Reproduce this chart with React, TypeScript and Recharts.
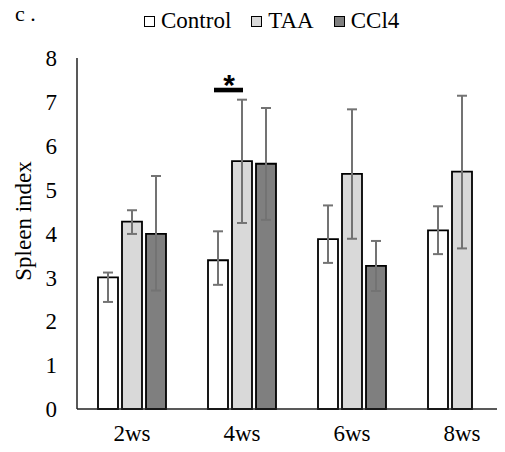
import { BarChart, Bar, XAxis, YAxis, ErrorBar, LabelList, Legend } from "recharts";

const weeks = ["2ws", "4ws", "6ws", "8ws"];
const yTicks = [0, 1, 2, 3, 4, 5, 6, 7, 8];

const controlValues = [3.0, 3.39, 3.87, 4.07];
const controlErr: [number, number][] = [[0.56, 0.11], [0.56, 0.66], [0.54, 0.77], [0.54, 0.55]];

const taaValues = [4.27, 5.65, 5.36, 5.41];
const taaErr: [number, number][] = [[0.28, 0.26], [1.41, 1.4], [1.48, 1.47], [1.75, 1.73]];

const ccl4Values: (number | null)[] = [3.99, 5.59, 3.26, null];
const ccl4Err: ([number, number] | null)[] = [[1.29, 1.32], [1.28, 1.27], [0.57, 0.57], null];

// significance mark over TAA at 4ws
const sigIndex = 1;
const sigValue = 7.27;

const panelLabel = "c .";

const series = [
  { key: "control", label: "Control", color: "#ffffff" },
  { key: "taa", label: "TAA", color: "#d9d9d9" },
  { key: "ccl4", label: "CCl4", color: "#7f7f7f" },
];

const data = weeks.map((w, i) => ({
  week: w,
  control: controlValues[i],
  controlErr: controlErr[i],
  taa: taaValues[i],
  taaErr: taaErr[i],
  ccl4: ccl4Values[i],
  ccl4Err: ccl4Err[i],
}));

const FONT = "'Liberation Serif', 'DejaVu Serif', serif";

function SigMark(props: any) {
  const { x, y, height, value, index } = props;
  if (index !== sigIndex || !value) return null;
  const bottom = y + height;
  const yy = bottom - (sigValue * height) / value;
  const cx = x - 3;
  return (
    <g>
      <rect x={cx - 15} y={yy - 2.3} width={29} height={4.6} fill="#000" />
      <text
        x={cx}
        y={yy + 5}
        textAnchor="middle"
        fontFamily="'Liberation Sans', Arial, sans-serif"
        fontWeight="bold"
        fontSize={30}
        fill="#000"
      >
        *
      </text>
    </g>
  );
}

function LegendBox() {
  return (
    <div style={{ position: "relative", width: 505, height: 40, fontFamily: FONT, color: "#000" }}>
      <div style={{ position: "absolute", left: 15, top: 3, fontSize: 22, lineHeight: "22px" }}>{panelLabel}</div>
      <div
        style={{
          position: "absolute",
          left: 144,
          top: 9,
          display: "flex",
          alignItems: "center",
          fontSize: 23,
          lineHeight: "23px",
          whiteSpace: "nowrap",
        }}
      >
        {series.map((s) => (
          <div key={s.key} style={{ display: "flex", alignItems: "center", marginRight: 20 }}>
            <span
              style={{
                display: "inline-block",
                width: 9,
                height: 9,
                background: s.color,
                border: "1.5px solid #000",
                marginRight: 6,
                marginTop: 2,
              }}
            />
            <span>{s.label}</span>
          </div>
        ))}
      </div>
    </div>
  );
}

export default function App() {
  return (
    <div style={{ position: "relative", width: 505, height: 452, margin: -8, overflow: "hidden", background: "#fff" }}>
      <BarChart
        width={530}
        height={452}
        data={data}
        margin={{ top: 58, right: 13, bottom: 13, left: 0 }}
        barCategoryGap={21}
        barGap={4}
      >
        <XAxis
          dataKey="week"
          axisLine={{ stroke: "#222", strokeWidth: 1.5 }}
          tickLine={false}
          tickMargin={10}
          height={30}
          tick={{ fill: "#000", fontSize: 23, fontFamily: FONT }}
        />
        <YAxis
          domain={[0, 8]}
          ticks={yTicks}
          width={77}
          axisLine={{ stroke: "#222", strokeWidth: 1.5 }}
          tickLine={false}
          tickMargin={14}
          tick={{ fill: "#000", fontSize: 23, fontFamily: FONT }}
          label={{
            content: () => (
              <text
                x={31}
                y={221}
                transform="rotate(-90 31 221)"
                textAnchor="middle"
                fontFamily={FONT}
                fontSize={23}
                fill="#000"
              >
                Spleen index
              </text>
            ),
          }}
        />
        <Legend
          layout="vertical"
          verticalAlign="middle"
          align="center"
          content={() => <LegendBox />}
          wrapperStyle={{ position: "absolute", left: 0, top: 0, width: 505, height: 40 }}
        />
        <Bar dataKey="control" name="Control" fill={series[0].color} stroke="#000" strokeWidth={1.8} isAnimationActive={false}>
          <ErrorBar dataKey="controlErr" width={5} stroke="#737373" strokeWidth={2} direction="y" />
        </Bar>
        <Bar dataKey="taa" name="TAA" fill={series[1].color} stroke="#000" strokeWidth={1.8} isAnimationActive={false}>
          <ErrorBar dataKey="taaErr" width={5} stroke="#737373" strokeWidth={2} direction="y" />
          <LabelList dataKey="taa" content={<SigMark />} />
        </Bar>
        <Bar dataKey="ccl4" name="CCl4" fill={series[2].color} stroke="#000" strokeWidth={1.8} isAnimationActive={false}>
          <ErrorBar dataKey="ccl4Err" width={5} stroke="#737373" strokeWidth={2} direction="y" />
        </Bar>
      </BarChart>
    </div>
  );
}
